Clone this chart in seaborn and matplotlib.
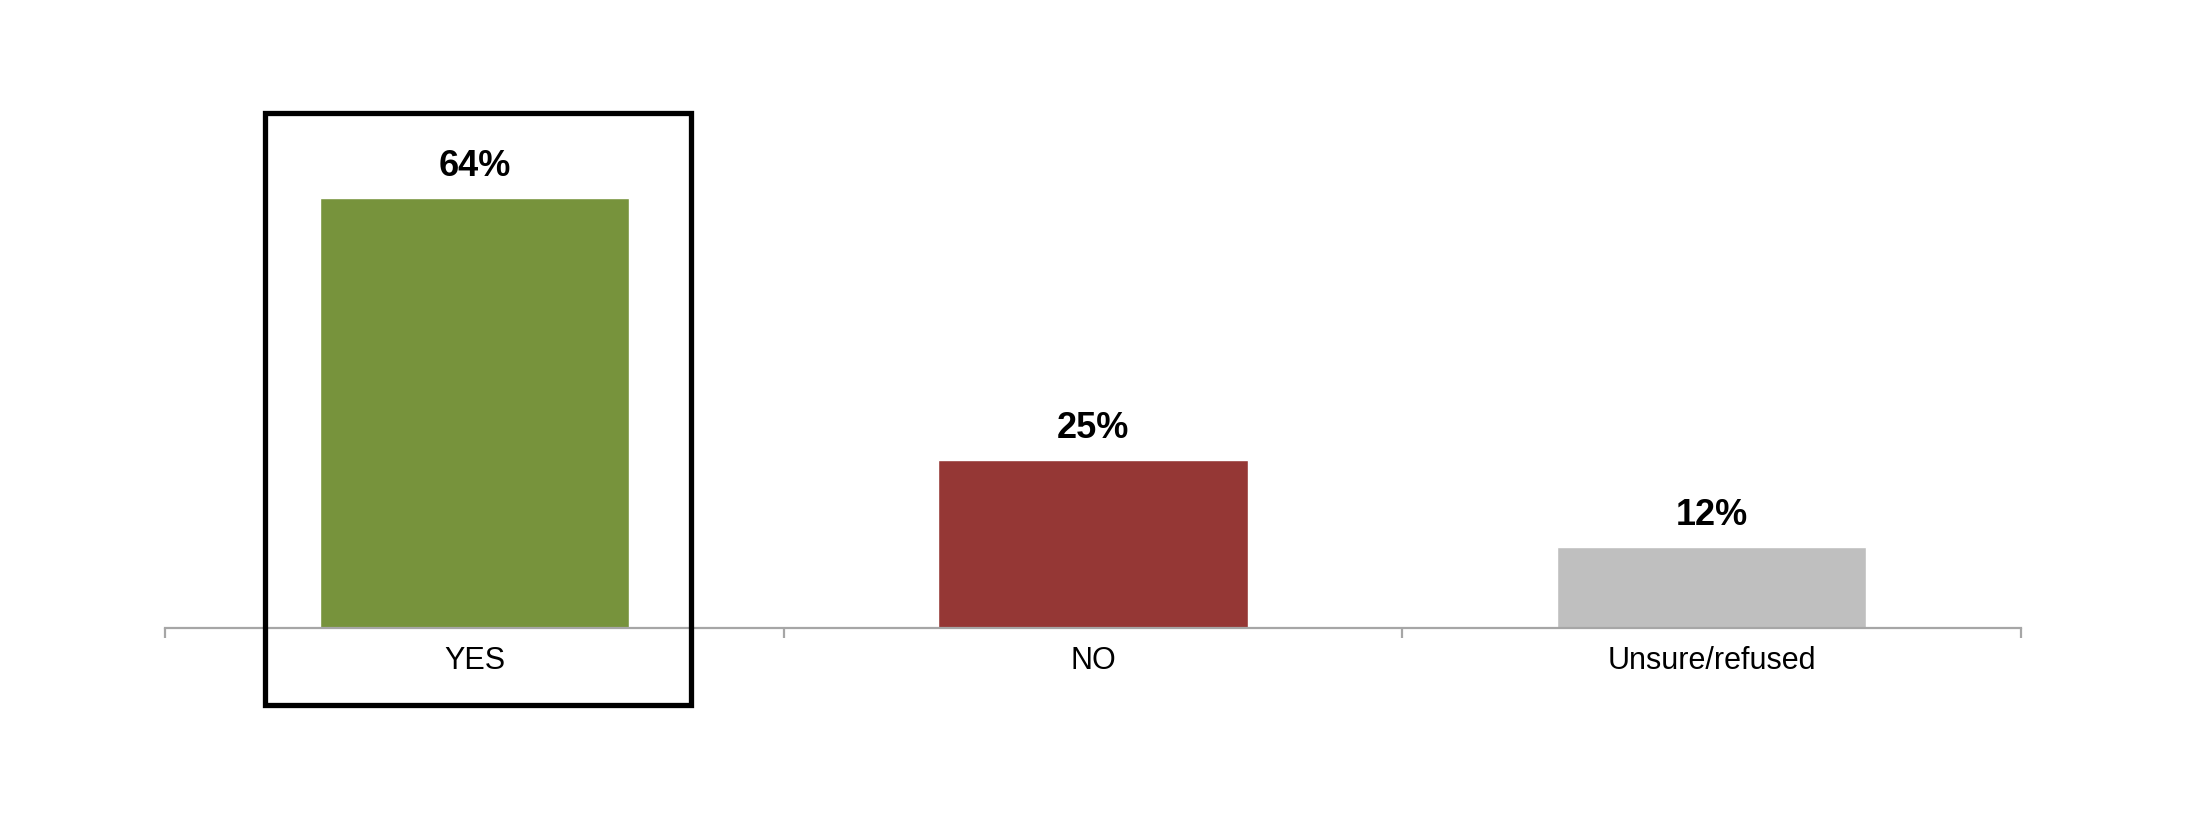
import matplotlib
matplotlib.use("Agg")
import matplotlib.pyplot as plt
import seaborn as sns
import pandas as pd
from matplotlib.patches import Rectangle
from matplotlib.ticker import FixedLocator

categories = ["YES", "NO", "Unsure/refused"]
values = [64, 25, 12]
labels = ["64%", "25%", "12%"]
colors = ["#77933C", "#953735", "#BFBFBF"]

data = pd.DataFrame({"answer": categories, "pct": values})

sns.set_style("white")
plt.rcParams["font.family"] = ["Liberation Sans", "DejaVu Sans"]
plt.rcParams["text.color"] = "black"
plt.rcParams["xtick.color"] = "black"

fig = plt.figure(figsize=(21.89, 8.2), dpi=100)
ax = fig.add_axes([0.0754, 0.233, 0.8479, 0.573])

sns.barplot(x="answer", y="pct", hue="answer", data=data, palette=colors,
            width=0.5, saturation=1, legend=False, ax=ax)

ax.set_xlim(-0.5, 2.5)
ax.set_ylim(0, 70)

for i, (v, lab) in enumerate(zip(values, labels)):
    ax.annotate(lab, (i, v), xytext=(0, 11), textcoords="offset points",
                ha="center", va="bottom", fontsize=26, fontweight="bold",
                color="black")

for s in ["top", "right", "left"]:
    ax.spines[s].set_visible(False)
ax.spines["bottom"].set_color("#A6A6A6")
ax.spines["bottom"].set_linewidth(1.6)

ax.set_yticks([])
ax.set_xlabel("")
ax.set_ylabel("")
ax.tick_params(axis="x", which="major", bottom=False, length=0, pad=12,
               labelsize=22, labelcolor="black")
ax.xaxis.set_minor_locator(FixedLocator([-0.5, 0.5, 1.5, 2.5]))
ax.tick_params(axis="x", which="minor", bottom=True, length=7, width=1.6,
               color="#A6A6A6", direction="out")

# highlight frame around the YES column
fig.patches.append(Rectangle((265 / 2189, 1 - 706 / 820), 426 / 2189, 592 / 820,
                             transform=fig.transFigure, fill=False,
                             edgecolor="black", linewidth=3.8, zorder=5))

fig.savefig("out.png", dpi=100, facecolor="white")
